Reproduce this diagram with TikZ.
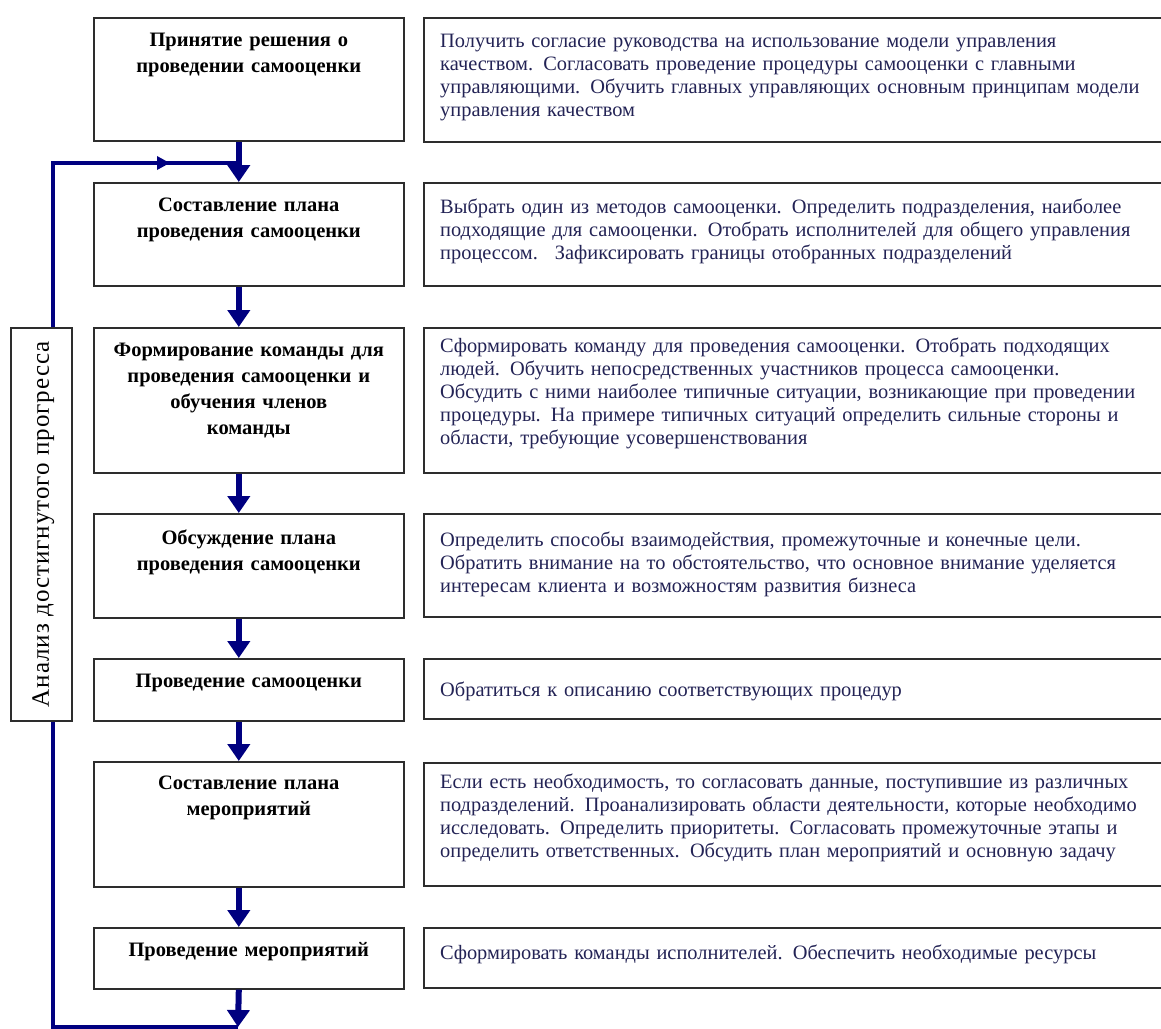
\documentclass[tikz,border=0pt]{standalone}
\usepackage{fontspec}
\setmainfont{Liberation Serif}
\newfontfamily\labelfont[LetterSpace=4]{Liberation Serif}
\usetikzlibrary{arrows.meta,positioning}

\definecolor{flowblue}{RGB}{0,0,128}
\definecolor{notecolor}{RGB}{35,35,85}
\definecolor{framegray}{RGB}{45,45,45}

\tikzset{
  stage/.style={draw=framegray, line width=1.6pt, anchor=north west, minimum width=310pt, inner sep=0pt},
  stagetext/.style={text width=304pt, align=center, inner sep=0pt, font=\fontsize{20.5}{26}\selectfont\bfseries},
  note/.style={draw=framegray, line width=2pt, anchor=north west, minimum width=760pt, inner sep=0pt},
  notetext/.style={text width=730pt, align=left, inner sep=0pt, text=notecolor, font=\fontsize{20.4}{23}\selectfont},
  flow/.style={flowblue, line width=6pt, -{Triangle[width=22pt,length=17pt]}},
  feedback/.style={flowblue, line width=4.5pt},
}

\begin{document}
\begin{tikzpicture}[x=1pt,y=-1pt]
  \clip (0,0) rectangle (1161,1028);

  % Draw the stage boxes
  \node[stage, minimum height=123pt] (s1) at (93,17) {};  % Stage 1
  \node[stage, minimum height=103pt] (s2) at (93,182) {}; % Stage 2
  \node[stage, minimum height=145pt] (s3) at (93,327) {}; % Stage 3
  \node[stage, minimum height=104pt] (s4) at (93,513) {}; % Stage 4
  \node[stage, minimum height=62pt] (s5) at (93,658) {};  % Stage 5
  \node[stage, minimum height=125pt] (s6) at (93,761) {}; % Stage 6
  \node[stage, minimum height=61pt] (s7) at (93,927) {};  % Stage 7

  \node[stagetext, below=16pt of s1.north] (t1) {Принятие решения о\\проведении самооценки};
  \node[stagetext, below=16pt of s2.north] (t2) {Составление плана\\проведения самооценки};
  \node[stagetext, below=16pt of s3.north] (t3) {Формирование команды для\\проведения самооценки и\\обучения членов\\команды};
  \node[stagetext, below=17pt of s4.north] (t4) {Обсуждение плана\\проведения самооценки};
  \node[stagetext, below=16pt of s5.north] (t5) {Проведение самооценки};
  \node[stagetext, below=15pt of s6.north] (t6) {Составление плана\\мероприятий};
  \node[stagetext, below=15pt of s7.north] (t7) {Проведение мероприятий};

  % Draw the note boxes
  \node[note, minimum height=124pt] (d1) at (423,17) {};
  \node[note, minimum height=103pt] (d2) at (423,182) {};
  \node[note, minimum height=145pt] (d3) at (423,327) {};
  \node[note, minimum height=103pt] (d4) at (423,513) {};
  \node[note, minimum height=60pt] (d5) at (423,658) {};
  \node[note, minimum height=123pt] (d6) at (423,762) {};
  \node[note, minimum height=60pt] (d7) at (423,927) {};

  \node[notetext, below right=17pt and 17pt of d1.north west] (n1) {Получить согласие руководства на использование модели управления\\
    качеством. Согласовать проведение процедуры самооценки с главными\\
    управляющими. Обучить главных управляющих основным принципам модели\\
    управления качеством};
  \node[notetext, below right=17pt and 17pt of d2.north west] (n2) {Выбрать один из методов самооценки. Определить подразделения, наиболее\\
    подходящие для самооценки. Отобрать исполнителей для общего управления\\
    процессом.~ Зафиксировать границы отобранных подразделений};
  \node[notetext, below right=11pt and 17pt of d3.north west] (n3) {Сформировать команду для проведения самооценки. Отобрать подходящих\\
    людей. Обучить непосредственных участников процесса самооценки.\\
    Обсудить с ними наиболее типичные ситуации, возникающие при проведении\\
    процедуры. На примере типичных ситуаций определить сильные стороны и\\
    области, требующие усовершенствования};
  \node[notetext, below right=19pt and 17pt of d4.north west] (n4) {Определить способы взаимодействия, промежуточные и конечные цели.\\
    Обратить внимание на то обстоятельство, что основное внимание уделяется\\
    интересам клиента и возможностям развития бизнеса};
  \node[notetext, below right=24pt and 17pt of d5.north west] (n5) {Обратиться к описанию соответствующих процедур};
  \node[notetext, below right=12pt and 17pt of d6.north west] (n6) {Если есть необходимость, то согласовать данные, поступившие из различных\\
    подразделений. Проанализировать области деятельности, которые необходимо\\
    исследовать. Определить приоритеты. Согласовать промежуточные этапы и\\
    определить ответственных. Обсудить план мероприятий и основную задачу};
  \node[notetext, below right=18pt and 17pt of d7.north west] (n7) {Сформировать команды исполнителей. Обеспечить необходимые ресурсы};

  % Draw the progress box
  \node[draw=framegray, line width=1.6pt, anchor=north west, minimum width=61pt, minimum height=393pt] (an) at (10,327) {};
  \node[rotate=90, font=\fontsize{25}{28}\labelfont] (al) at ([xshift=2pt]an.center) {Анализ достигнутого прогресса};

  % Draw the arrows
  \foreach \a/\b in {s1/s2, s2/s3, s3/s4, s4/s5, s5/s6, s6/s7}
    \draw[flow] ([xshift=-10pt]\a.south) -- ([xshift=-10pt]\b.north);
  \coordinate (fbbot) at (238,1027);
  \coordinate (fbmid) at (170,163);
  \coordinate (fbjoin) at (238,163);

  % Draw the feedback line
  \draw[feedback] (fbbot) -| ([xshift=11.5pt]an.south);
  \draw[feedback] ([xshift=11.5pt]an.north) |- (fbjoin);
  \draw[feedback, -{Triangle[width=13pt,length=13pt]}] ([xshift=-20pt]fbmid) -- (fbmid);
  \draw[flow] ([xshift=-10pt]s7.south) -- (fbbot);
\end{tikzpicture}
\end{document}
